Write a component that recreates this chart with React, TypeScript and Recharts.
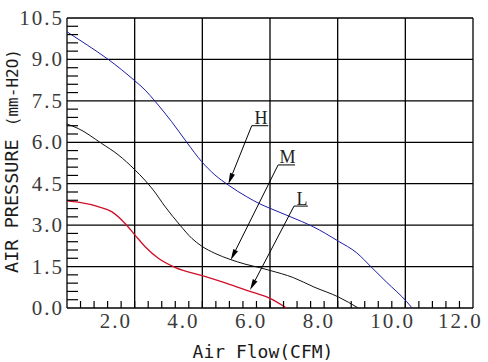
import { LineChart, Line, XAxis, YAxis, ReferenceLine } from 'recharts';

// curve H (blue)
const highFlow = [0, 0.6, 1.22, 2.0, 2.31, 2.6, 3.09, 3.54, 3.98, 4.37, 4.77, 5.31, 5.7, 6.0, 6.59, 7.28, 8.02, 8.56, 8.98, 9.45, 10.04, 10.2];
const highPressure = [10.0, 9.52, 9.0, 8.23, 7.89, 7.49, 6.75, 6.0, 5.3, 4.82, 4.45, 4.03, 3.77, 3.61, 3.31, 2.94, 2.42, 2.0, 1.5, 0.93, 0.23, 0];

// curve M (black)
const midFlow = [0, 0.33, 1.02, 1.51, 2.01, 2.3, 2.55, 2.9, 3.34, 3.69, 3.98, 4.37, 4.82, 5.26, 5.7, 6.0, 6.69, 7.3, 8.02, 8.61];
const midPressure = [6.66, 6.5, 5.96, 5.55, 5.0, 4.63, 4.27, 3.67, 3.0, 2.52, 2.24, 1.98, 1.76, 1.59, 1.46, 1.36, 1.1, 0.76, 0.4, 0];

// curve L (red)
const lowFlow = [0, 0.33, 0.92, 1.32, 1.71, 2.01, 2.31, 2.7, 3.19, 4.0, 4.72, 5.36, 6.0, 6.49];
const lowPressure = [3.88, 3.83, 3.67, 3.49, 3.07, 2.64, 2.22, 1.8, 1.47, 1.17, 0.89, 0.62, 0.35, 0];

// grid / tick values
const xGrid = [0, 2, 4, 6, 8, 10, 12];
const yGrid = [0, 1.5, 3, 4.5, 6, 7.5, 9, 10.5];
const xTicks = Array.from({ length: 31 }, (_, i) => +(i * 0.4).toFixed(1));
const yTicks = Array.from({ length: 36 }, (_, i) => +(i * 0.3).toFixed(1));

// speed labels with leader arrows
const tagNames = ['H', 'M', 'L'];
const tagStartX = [5.46, 6.24, 6.71];
const tagEndX = [5.95, 6.74, 7.12];
const tagY = [6.6, 5.18, 3.69];
const tipX = [4.77, 4.84, 5.41];
const tipY = [4.49, 1.74, 0.65];

const zip = (xs: number[], ys: number[]) => xs.map((x, i) => ({ x, y: ys[i] }));
const highData = zip(highFlow, highPressure);
const midData = zip(midFlow, midPressure);
const lowData = zip(lowFlow, lowPressure);

const isStep = (v: number, step: number) => Math.abs(v / step - Math.round(v / step)) < 1e-6;

const tickFont = "'Liberation Serif', 'Times New Roman', serif";

const XTick = (props: any) => {
  const { x, y, payload } = props;
  const v = payload.value as number;
  const major = isStep(v, 2) && v > 0;
  return (
    <g>
      {v > 0 && v < 12 && <line x1={x} y1={y} x2={x} y2={y - 7} stroke="#000" strokeWidth={1.2} />}
      {major && (
        <text x={x - 35} y={y + 20} textAnchor="start" fontFamily={tickFont} fontSize={21} letterSpacing={2} fill="#3a3a3a">
          {v.toFixed(1)}
        </text>
      )}
    </g>
  );
};

const YTick = (props: any) => {
  const { x, y, payload } = props;
  const v = payload.value as number;
  const major = isStep(v, 1.5);
  return (
    <g>
      {!major && <line x1={x} y1={y} x2={x + 11} y2={y} stroke="#000" strokeWidth={1.2} />}
      {major && (
        <text x={x - 3} y={y + 7} textAnchor="end" fontFamily={tickFont} fontSize={21} letterSpacing={2} fill="#3a3a3a">
          {v.toFixed(1)}
        </text>
      )}
    </g>
  );
};

const Arrow = (props: any) => {
  const { x1, y1, x2, y2 } = props;
  const dx = x2 - x1;
  const dy = y2 - y1;
  const len = Math.sqrt(dx * dx + dy * dy) || 1;
  const ux = dx / len;
  const uy = dy / len;
  const bx = x2 - ux * 11;
  const by = y2 - uy * 11;
  const nx = -uy * 2.6;
  const ny = ux * 2.6;
  return (
    <g>
      <line x1={x1} y1={y1} x2={bx} y2={by} stroke="#000" strokeWidth={1} />
      <polygon points={`${x2},${y2} ${bx + nx},${by + ny} ${bx - nx},${by - ny}`} fill="#000" />
    </g>
  );
};

const Tag = (name: string) => (props: any) => {
  const { x1, y1, x2, y2 } = props;
  return (
    <g>
      <line x1={x1} y1={y1} x2={x2} y2={y2} stroke="#000" strokeWidth={1} />
      <text x={(x1 + x2) / 2 + 1} y={y1 - 1.5} textAnchor="middle" fontFamily={tickFont} fontSize={18} fill="#222">
        {name}
      </text>
    </g>
  );
};

const YTitle = () => (
  <text
    x={18}
    y={161}
    transform="rotate(-90, 18, 161)"
    textAnchor="middle"
    fontFamily="'DejaVu Sans Mono', monospace"
    fontSize={18.5}
    fill="#1a1a1a"
  >
    AIR PRESSURE <tspan fontSize={16} dx={2}>(mm-H2O)</tspan>
  </text>
);

const XTitle = () => (
  <text x={263} y={358} textAnchor="middle" fontFamily="'DejaVu Sans Mono', monospace" fontSize={18} fill="#1a1a1a">
    Air Flow(CFM)
  </text>
);

export default function App() {
  return (
    <div style={{ position: 'absolute', left: 0, top: 0, background: '#fff' }}>
      <LineChart width={488} height={362} margin={{ top: 18, right: 15, bottom: 24, left: 7 }}>
        <XAxis
          dataKey="x"
          type="number"
          domain={[0, 12]}
          ticks={xTicks}
          interval={0}
          tickSize={0}
          tickMargin={0}
          tickLine={false}
          axisLine={false}
          height={30}
          tick={<XTick />}
          label={<XTitle />}
          allowDataOverflow
        />
        <YAxis
          type="number"
          domain={[0, 10.5]}
          ticks={yTicks}
          interval={0}
          tickSize={0}
          tickMargin={0}
          tickLine={false}
          axisLine={false}
          width={60}
          tick={<YTick />}
          label={<YTitle />}
          allowDataOverflow
        />
        {xGrid.map((v) => (
          <ReferenceLine key={`gx${v}`} x={v} stroke="#000" strokeWidth={1.3} />
        ))}
        {yGrid.map((v) => (
          <ReferenceLine key={`gy${v}`} y={v} stroke="#000" strokeWidth={1.3} />
        ))}
        <Line data={highData} dataKey="y" type="monotone" stroke="#1c1ca8" strokeWidth={1} dot={false} isAnimationActive={false} />
        <Line data={midData} dataKey="y" type="monotone" stroke="#111" strokeWidth={1} dot={false} isAnimationActive={false} />
        <Line data={lowData} dataKey="y" type="monotone" stroke="#d0102a" strokeWidth={1.3} dot={false} isAnimationActive={false} />
        {tagNames.map((name, i) => (
          <ReferenceLine
            key={`tag${name}`}
            segment={[{ x: tagStartX[i], y: tagY[i] }, { x: tagEndX[i], y: tagY[i] }]}
            shape={Tag(name)}
          />
        ))}
        {tagNames.map((name, i) => (
          <ReferenceLine
            key={`arrow${name}`}
            segment={[{ x: tagStartX[i], y: tagY[i] }, { x: tipX[i], y: tipY[i] }]}
            shape={Arrow}
          />
        ))}
      </LineChart>
    </div>
  );
}
